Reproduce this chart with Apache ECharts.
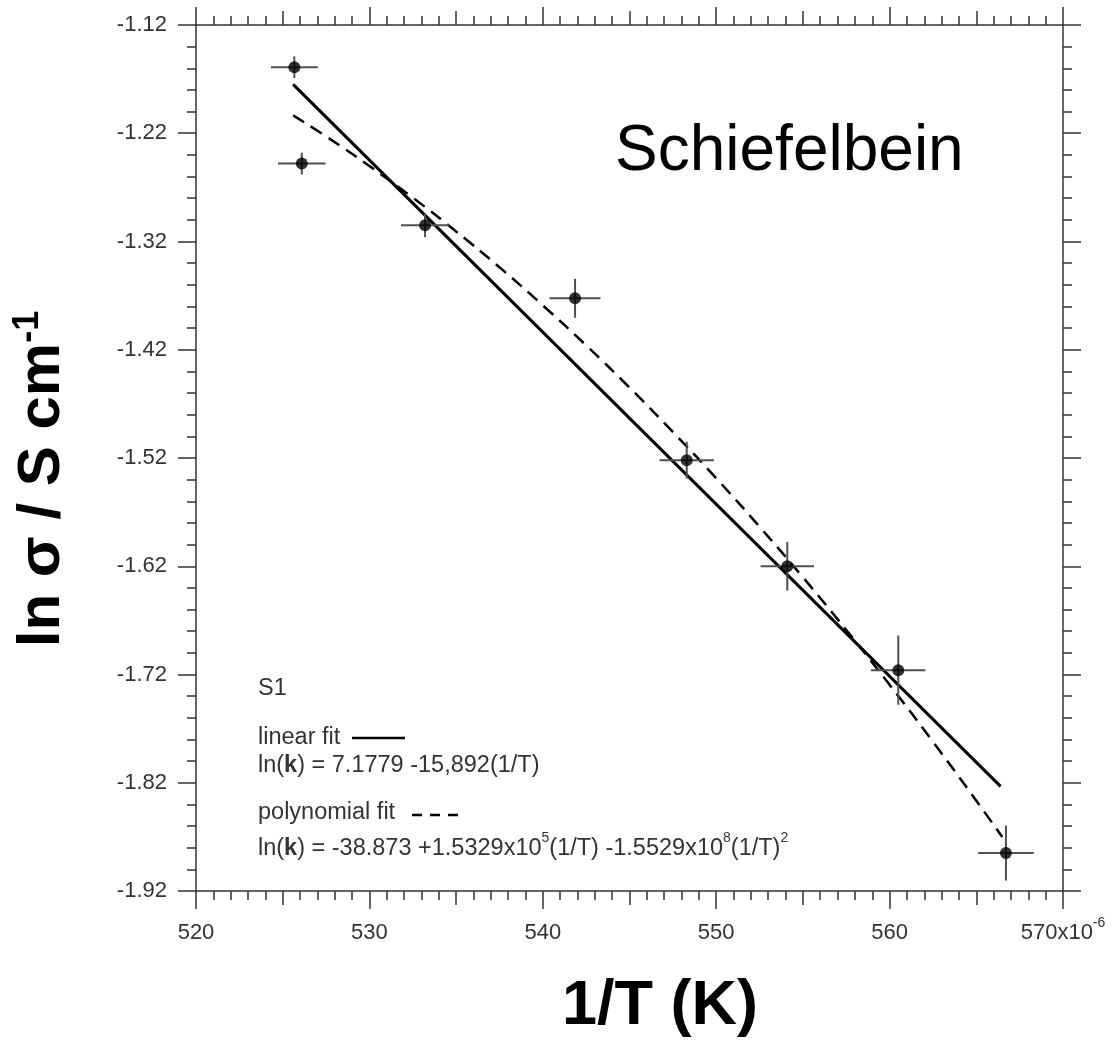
<!DOCTYPE html>
<html>
<head>
<meta charset="utf-8">
<script src="https://cdn.jsdelivr.net/npm/echarts@6/dist/echarts.min.js"></script>
<style>
html,body{margin:0;padding:0;background:#fff;}
#chart{width:1113px;height:1043px;}
</style>
</head>
<body>
<div id="chart"></div>
<script>
// ---- data ----
const xVals = [525.67, 526.10, 533.21, 541.86, 548.30, 554.10, 560.50, 566.71];
const yVals = [-1.159, -1.248, -1.305, -1.3725, -1.522, -1.620, -1.716, -1.885];
const xErr  = [1.35, 1.37, 1.39, 1.47, 1.57, 1.54, 1.57, 1.60];
const yErr  = [0.010, 0.010, 0.011, 0.018, 0.017, 0.0225, 0.032, 0.0254];

const linX = [525.6, 566.4];
const linY = [-1.1749, -1.8233];

const polyX = [525.6, 527.5, 530, 532.5, 535, 537.5, 540, 542.5, 545, 547.5, 550, 552.5, 555, 557.5, 560, 562.5, 565, 566.5];
const polyY = [-1.2035, -1.2229, -1.2503, -1.2795, -1.3107, -1.3438, -1.379, -1.416, -1.4549, -1.4959, -1.5387, -1.5835, -1.6302, -1.6789, -1.7295, -1.7821, -1.8366, -1.8702];

const xTicks = [520, 530, 540, 550, 560, 570];
const yTicks = [-1.92, -1.82, -1.72, -1.62, -1.52, -1.42, -1.32, -1.22, -1.12];

const FONT = '"Liberation Sans", Arial, Helvetica, sans-serif';
const AX = '#333';
const LG = 23.5; // legend font size

const chart = echarts.init(document.getElementById('chart'));

function xAxisCfg(pos, showLabel, interval, tickLen, showLine, minor) {
  return {
    type: 'value', position: pos, min: xTicks[0], max: xTicks[xTicks.length - 1], interval: interval,
    axisLine: { show: showLine, lineStyle: { color: AX, width: 1.5 } },
    axisTick: { show: true, inside: false, length: tickLen, lineStyle: { color: AX, width: 1.5 } },
    minorTick: { show: minor, splitNumber: 10, length: 9, lineStyle: { color: AX, width: 1.5 } },
    splitLine: { show: false }, minorSplitLine: { show: false },
    axisLabel: {
      show: showLabel, margin: 25, fontSize: 22, color: '#333', fontFamily: FONT,
      formatter: function (v) { return v === 570 ? '{a|570x10}{s|-6}' : '{a|' + v + '}'; },
      rich: {
        a: { fontSize: 22, color: '#333', fontFamily: FONT, lineHeight: 34 },
        s: { fontSize: 14, color: '#333', fontFamily: FONT, verticalAlign: 'top', lineHeight: 14 }
      }
    }
  };
}
function yAxisCfg(pos, showLabel) {
  return {
    type: 'value', position: pos, min: yTicks[0], max: yTicks[yTicks.length - 1], interval: 0.1,
    axisLine: { show: true, lineStyle: { color: AX, width: 1.5 } },
    axisTick: { show: true, inside: false, length: 18, lineStyle: { color: AX, width: 1.5 } },
    minorTick: { show: true, splitNumber: 5, length: 9, lineStyle: { color: AX, width: 1.5 } },
    splitLine: { show: false }, minorSplitLine: { show: false },
    axisLabel: {
      show: showLabel, margin: 29, fontSize: 22, color: '#333', fontFamily: FONT,
      formatter: function (v) { return v.toFixed(2); }
    }
  };
}

const points = xVals.map((x, i) => [x, yVals[i], xErr[i], yErr[i]]);

const option = {
  animation: false,
  backgroundColor: '#fff',
  grid: { left: 196, top: 25, width: 867, height: 866, outerBoundsMode: 'none', containLabel: false },
  xAxis: [
    xAxisCfg('bottom', true, 10, 18, true, true),
    xAxisCfg('top', false, 10, 18, true, true),
    xAxisCfg('bottom', false, 5, 14, false, false),
    xAxisCfg('top', false, 5, 14, false, false)
  ],
  yAxis: [yAxisCfg('left', true), yAxisCfg('right', false)],
  series: [
    {
      type: 'line', name: 'linear fit', data: linX.map((x, i) => [x, linY[i]]),
      showSymbol: false, symbol: 'none', lineStyle: { color: '#000', width: 3, type: 'solid' }, z: 2
    },
    {
      type: 'line', name: 'polynomial fit', data: polyX.map((x, i) => [x, polyY[i]]),
      showSymbol: false, symbol: 'none', smooth: true,
      lineStyle: { color: '#000', width: 2.5, type: [13, 8] }, z: 2
    },
    {
      type: 'custom', name: 'error', data: points, z: 3,
      renderItem: function (params, api) {
        const x = api.value(0), y = api.value(1), ex = api.value(2), ey = api.value(3);
        const l = api.coord([x - ex, y]), r = api.coord([x + ex, y]);
        const t = api.coord([x, y + ey]), b = api.coord([x, y - ey]);
        const st = { stroke: '#505050', lineWidth: 2 };
        return {
          type: 'group', children: [
            { type: 'line', shape: { x1: l[0], y1: l[1], x2: r[0], y2: r[1] }, style: st },
            { type: 'line', shape: { x1: t[0], y1: t[1], x2: b[0], y2: b[1] }, style: st }
          ]
        };
      }
    },
    {
      type: 'scatter', name: 'S1', data: points.map(p => [p[0], p[1]]),
      symbol: 'circle', symbolSize: 12, itemStyle: { color: '#000' }, z: 4
    }
  ],
  graphic: [
    { type: 'text', x: 615, y: 152, style: { text: 'Schiefelbein', fontSize: 64, fontFamily: FONT, fill: '#000', align: 'left', verticalAlign: 'middle' } },
    {
      type: 'text', x: 42, y: 479, rotation: Math.PI / 2,
      style: {
        text: '{m|ln σ / S cm}{s|-1}', align: 'center', verticalAlign: 'middle',
        rich: {
          m: { fontSize: 60, fontWeight: 'bold', fontFamily: FONT, fill: '#000', lineHeight: 64 },
          s: { fontSize: 36, fontWeight: 'bold', fontFamily: FONT, fill: '#000', lineHeight: 40, verticalAlign: 'top' }
        }
      }
    },
    { type: 'text', x: 660, y: 1007, style: { text: '1/T (K)', fontSize: 63, fontWeight: 'bold', fontFamily: FONT, fill: '#000', align: 'center', verticalAlign: 'middle' } },
    { type: 'text', x: 258, y: 689, style: { text: 'S1', fontSize: LG, fontFamily: FONT, fill: '#333', align: 'left', verticalAlign: 'middle' } },
    { type: 'text', x: 258, y: 738, style: { text: 'linear fit', fontSize: LG, fontFamily: FONT, fill: '#333', align: 'left', verticalAlign: 'middle' } },
    { type: 'line', shape: { x1: 352, y1: 738, x2: 405, y2: 738 }, style: { stroke: '#000', lineWidth: 2.5 } },
    {
      type: 'text', x: 258, y: 766,
      style: {
        text: '{n|ln(}{b|k}{n|) = 7.1779 -15,892(1/T)}', align: 'left', verticalAlign: 'middle',
        rich: {
          n: { fontSize: LG, fontFamily: FONT, fill: '#333' },
          b: { fontSize: LG, fontFamily: FONT, fontWeight: 'bold', fill: '#333' }
        }
      }
    },
    { type: 'text', x: 258, y: 813, style: { text: 'polynomial fit', fontSize: LG, fontFamily: FONT, fill: '#333', align: 'left', verticalAlign: 'middle' } },
    { type: 'line', shape: { x1: 412, y1: 815, x2: 460, y2: 815 }, style: { stroke: '#000', lineWidth: 2.5, lineDash: [10, 8] } },
    {
      type: 'text', x: 258, y: 849,
      style: {
        text: '{n|ln(}{b|k}{n|) = -38.873 +1.5329x10}{s|5}{n|(1/T) -1.5529x10}{s|8}{n|(1/T)}{s|2}', align: 'left', verticalAlign: 'middle',
        rich: {
          n: { fontSize: LG, fontFamily: FONT, fill: '#333', lineHeight: 36 },
          b: { fontSize: LG, fontFamily: FONT, fontWeight: 'bold', fill: '#333', lineHeight: 36 },
          s: { fontSize: 14, fontFamily: FONT, fill: '#333', lineHeight: 14, verticalAlign: 'top' }
        }
      }
    }
  ]
};
chart.setOption(option);
</script>
</body>
</html>
